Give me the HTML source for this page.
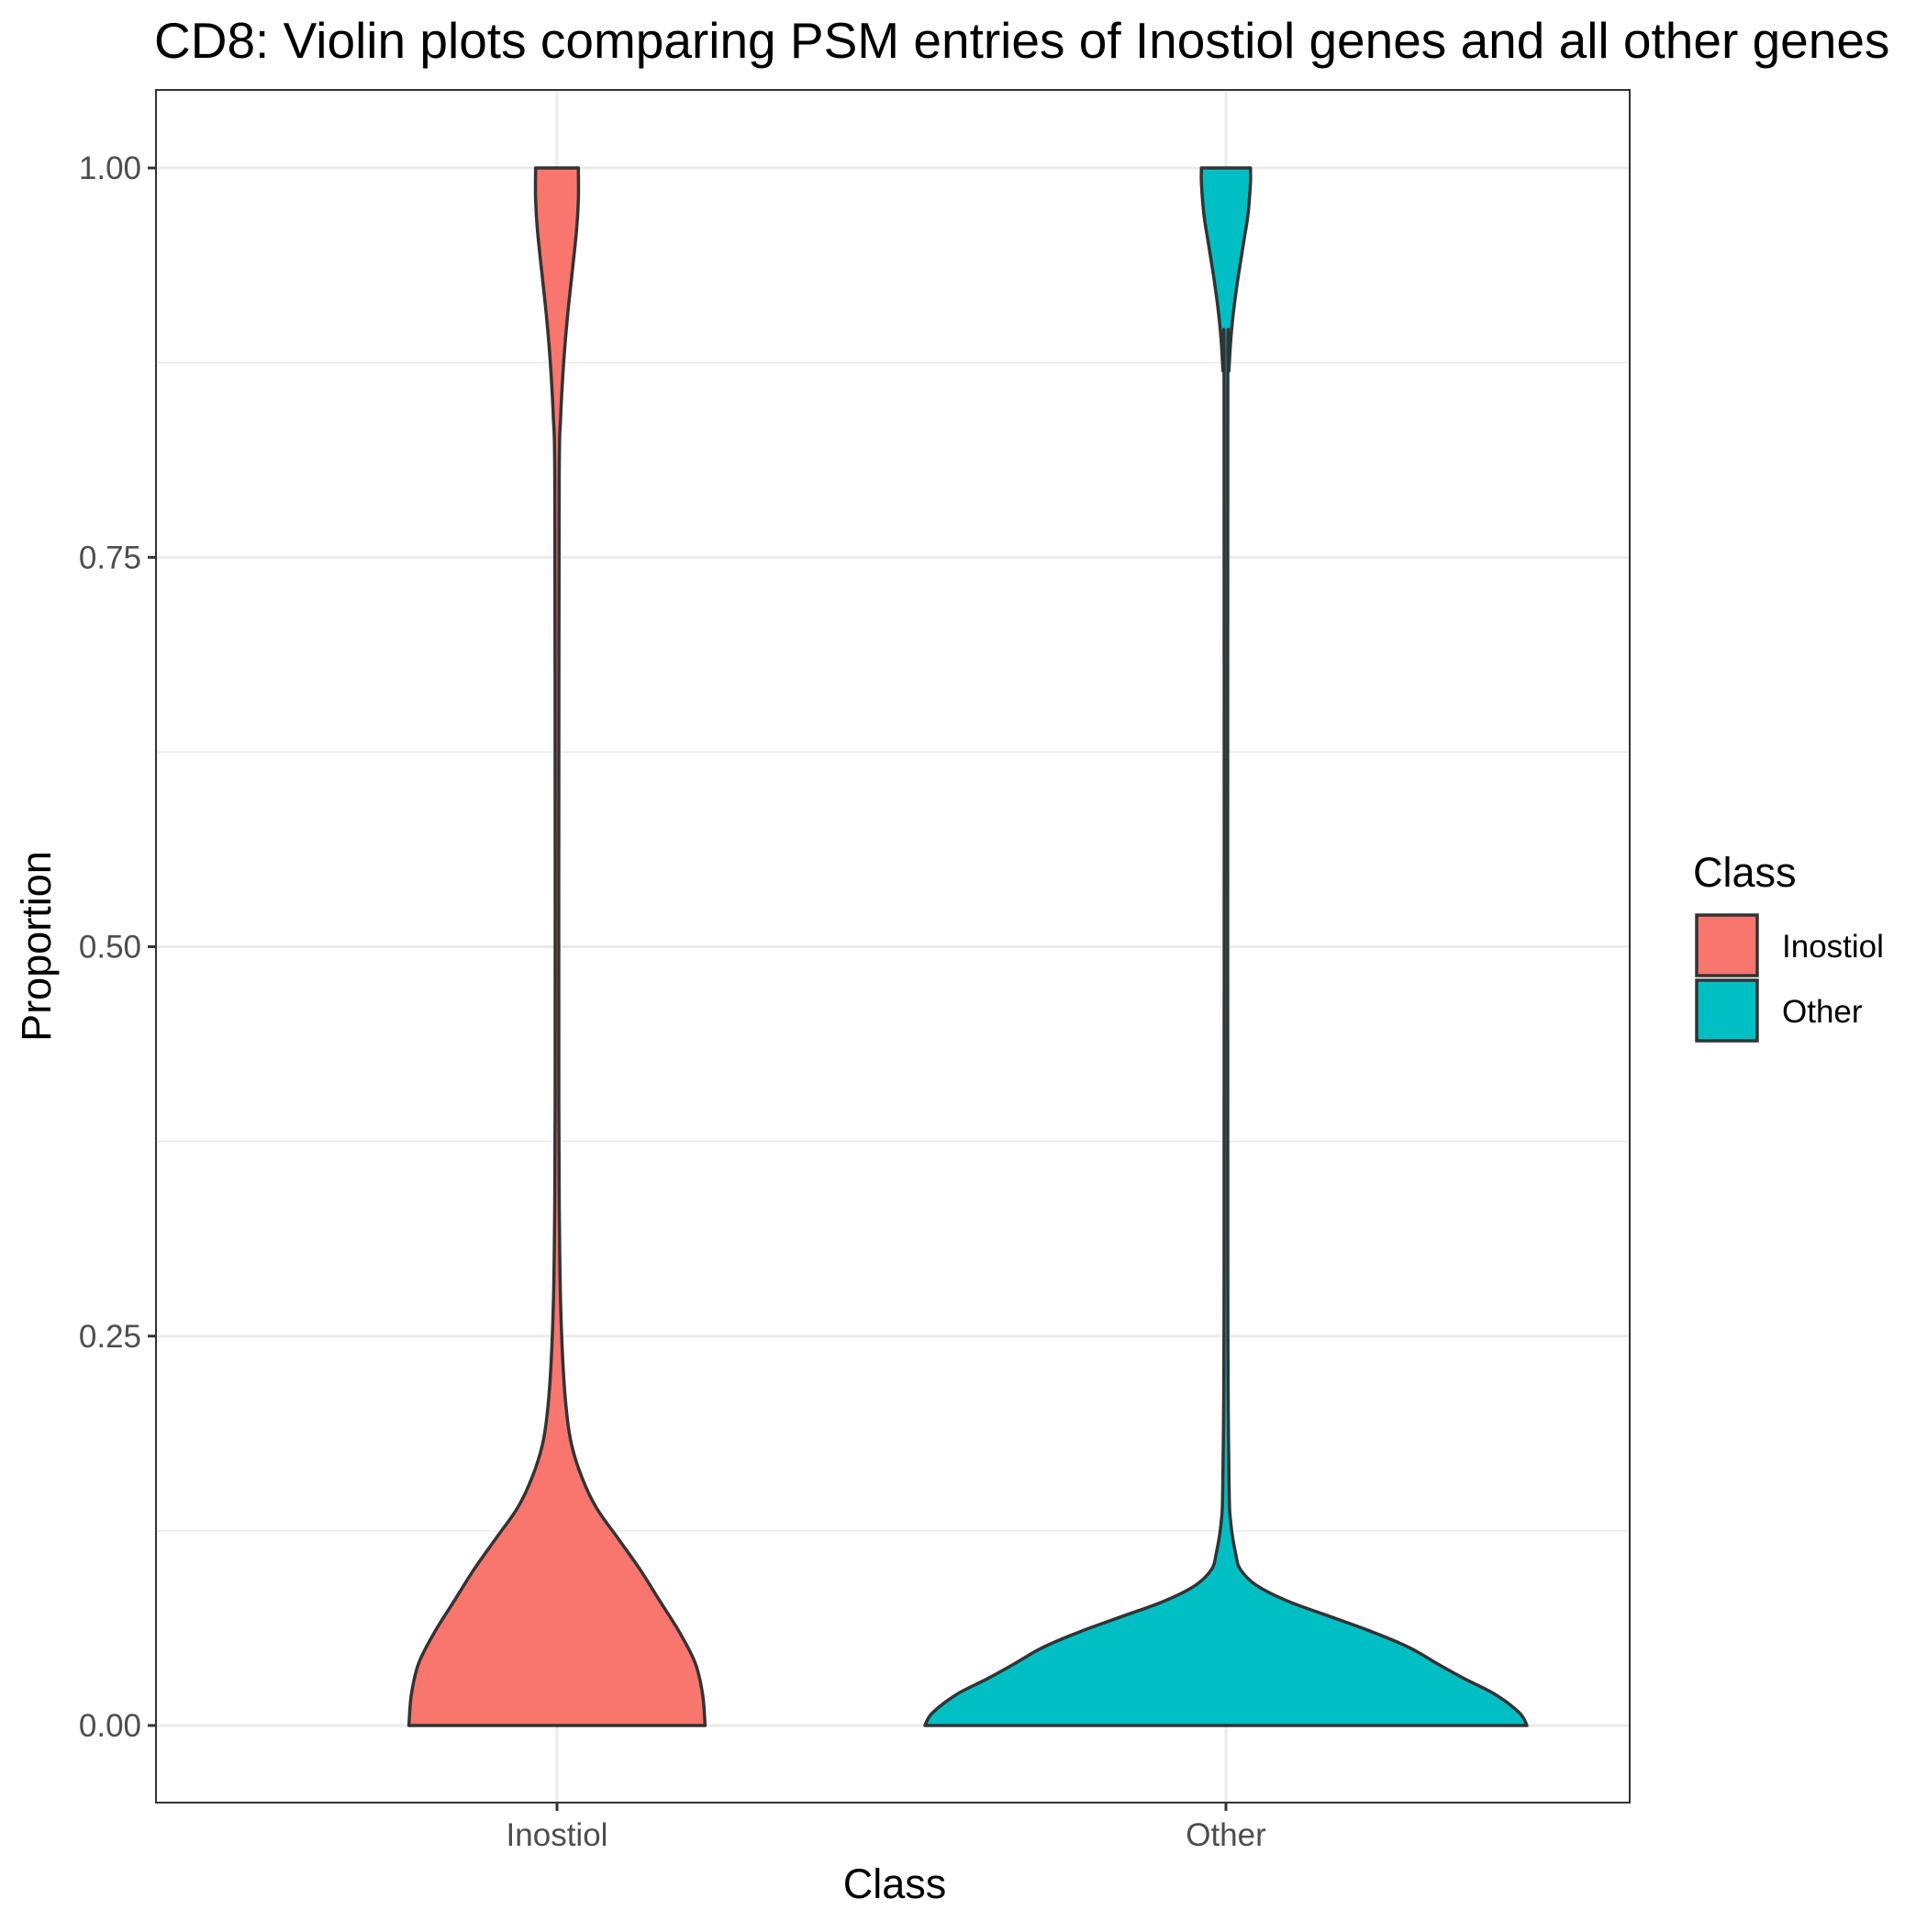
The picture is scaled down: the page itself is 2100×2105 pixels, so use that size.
<!DOCTYPE html>
<html><head><meta charset="utf-8"><style>
body{margin:0;background:#fff}
svg text{font-family:"Liberation Sans",Arial,sans-serif}
</style></head><body>
<svg id="chart" width="2100" height="2100" viewBox="0 0 2100 2100" xmlns="http://www.w3.org/2000/svg">
<rect width="2100" height="2100" fill="#fff"/>
<text x="168" y="63" font-size="55" fill="#000">CD8: Violin plots comparing PSM entries of Inostiol genes and all other genes</text>
<g id="grid"></g>
<g id="violins"></g>
<rect x="170" y="98" width="1606" height="1866" fill="none" stroke="#333" stroke-width="2"/>
<g id="axes"></g>
<text x="975" y="2068" font-size="45" text-anchor="middle">Class</text>
<text transform="translate(55,1031) rotate(-90)" font-size="45" text-anchor="middle">Proportion</text>
<g>
<text x="1845" y="966" font-size="45">Class</text>
<rect x="1849" y="997" width="66" height="66" fill="#F8766D" stroke="#333" stroke-width="3.5"/>
<text x="1942" y="1043" font-size="35">Inostiol</text>
<rect x="1849" y="1068" width="66" height="66" fill="#00BFC4" stroke="#333" stroke-width="3.5"/>
<text x="1942" y="1114" font-size="35">Other</text>
</g>
</svg>
<script>
const categories = ["Inostiol", "Other"];
const colors = ["#F8766D", "#00BFC4"];
const yTicks = [0, 0.25, 0.5, 0.75, 1];
const yTickLabels = ["0.00", "0.25", "0.50", "0.75", "1.00"];
const inostiolY = [0,0.02,0.04,0.06,0.08,0.1,0.12,0.14,0.16,0.18,0.2,0.23,0.27,0.32,0.4,0.6,0.8,0.84,0.87,0.9,0.93,0.96,0.98,1];
const inostiolDensity = [121,119,113,100,84,68,50,32,20,12,8,5,3,2,1.5,1.5,1.8,3,5,8,12,16,17.5,17.5];
const otherY = [0,0.008,0.02,0.03,0.04,0.05,0.06,0.07,0.08,0.09,0.1,0.11,0.13,0.16,0.3,0.85,0.87,0.89,0.91,0.93,0.95,0.97,0.99,1];
const otherDensity = [246,240,220,195,172,150,120,85,50,25,12,8,4,2.5,1.5,1.5,2.5,4,6.5,10,14,18,20,20];

const NS = "http://www.w3.org/2000/svg";
const px0 = 170, px1 = 1776, py0 = 98, py1 = 1964;
const yScale = v => 1880 + (183 - 1880) * v;
const xScale = i => 607 + (1336 - 607) * i;
const unitPx = 1336 - 607;
const maxDensity = Math.max(...inostiolDensity, ...otherDensity);
function mk(tag, attrs, parent){const e=document.createElementNS(NS,tag);for(const k in attrs)e.setAttribute(k,attrs[k]);parent.appendChild(e);return e;}
const grid = document.getElementById("grid"), axes = document.getElementById("axes"), vg = document.getElementById("violins");
for (let i = 0; i < yTicks.length - 1; i++) {
  const m = (yTicks[i] + yTicks[i+1]) / 2;
  const l = mk("line",{x1:px0,x2:px1,y1:yScale(m),y2:yScale(m),stroke:"#ebebeb","stroke-width":1.5},grid);
  
  
}
yTicks.forEach((t, i) => {
  const y = yScale(t);
  const l = mk("line",{x1:px0,x2:px1,y1:y,y2:y,stroke:"#ebebeb","stroke-width":3},grid);
  
  
  const tk = mk("line",{x1:px0-9,x2:px0,y1:y,y2:y,stroke:"#333","stroke-width":3},axes);
  
  
  const tx = mk("text",{x:px0-16,y:y+12,"font-size":35,fill:"#4d4d4d","text-anchor":"end"},axes);
  
  
  tx.textContent = yTickLabels[i];
});
categories.forEach((c, i) => {
  const x = xScale(i);
  const l = mk("line",{x1:x,x2:x,y1:py0,y2:py1,stroke:"#ebebeb","stroke-width":3},grid);
  
  
  const tk = mk("line",{x1:x,x2:x,y1:py1,y2:py1+9,stroke:"#333","stroke-width":3},axes);
  
  
  const tx = mk("text",{x:x,y:py1+47,"font-size":35,fill:"#4d4d4d","text-anchor":"middle"},axes);
  
  
  tx.textContent = c;
});
function smooth(pts, cx, sgn){
  let d = "";
  const cl = x => sgn > 0 ? Math.max(x, cx + 0.8) : Math.min(x, cx - 0.8);
  for (let k = 0; k < pts.length - 1; k++) {
    const p0 = pts[Math.max(0,k-1)], p1 = pts[k], p2 = pts[k+1], p3 = pts[Math.min(pts.length-1,k+2)];
    const c1 = [cl(p1[0]+(p2[0]-p0[0])/6), p1[1]+(p2[1]-p0[1])/6];
    const c2 = [cl(p2[0]-(p3[0]-p1[0])/6), p2[1]-(p3[1]-p1[1])/6];
    d += " C"+c1[0].toFixed(1)+","+c1[1].toFixed(1)+" "+c2[0].toFixed(1)+","+c2[1].toFixed(1)+" "+p2[0].toFixed(1)+","+p2[1].toFixed(1);
  }
  return d;
}
function violin(i, ys, ds, name){
  const cx = xScale(i);
  const w = d => d / maxDensity * 0.45 * unitPx;
  const right = ys.map((y,k)=>[cx + w(ds[k]), yScale(y)]);
  const left = ys.map((y,k)=>[cx - w(ds[k]), yScale(y)]).reverse();
  let d = "M"+right[0][0].toFixed(1)+","+right[0][1].toFixed(1) + smooth(right, cx, 1) +
          " L"+left[0][0].toFixed(1)+","+left[0][1].toFixed(1) + smooth(left, cx, -1) + " Z";
  const p = mk("path",{d:d,fill:colors[i],stroke:"#333","stroke-width":3.5,"stroke-linejoin":"round"},vg);
  
  
}
violin(0, inostiolY, inostiolDensity, 'violin-inostiol');
violin(1, otherY, otherDensity, 'violin-other');
</script>
</body></html>
